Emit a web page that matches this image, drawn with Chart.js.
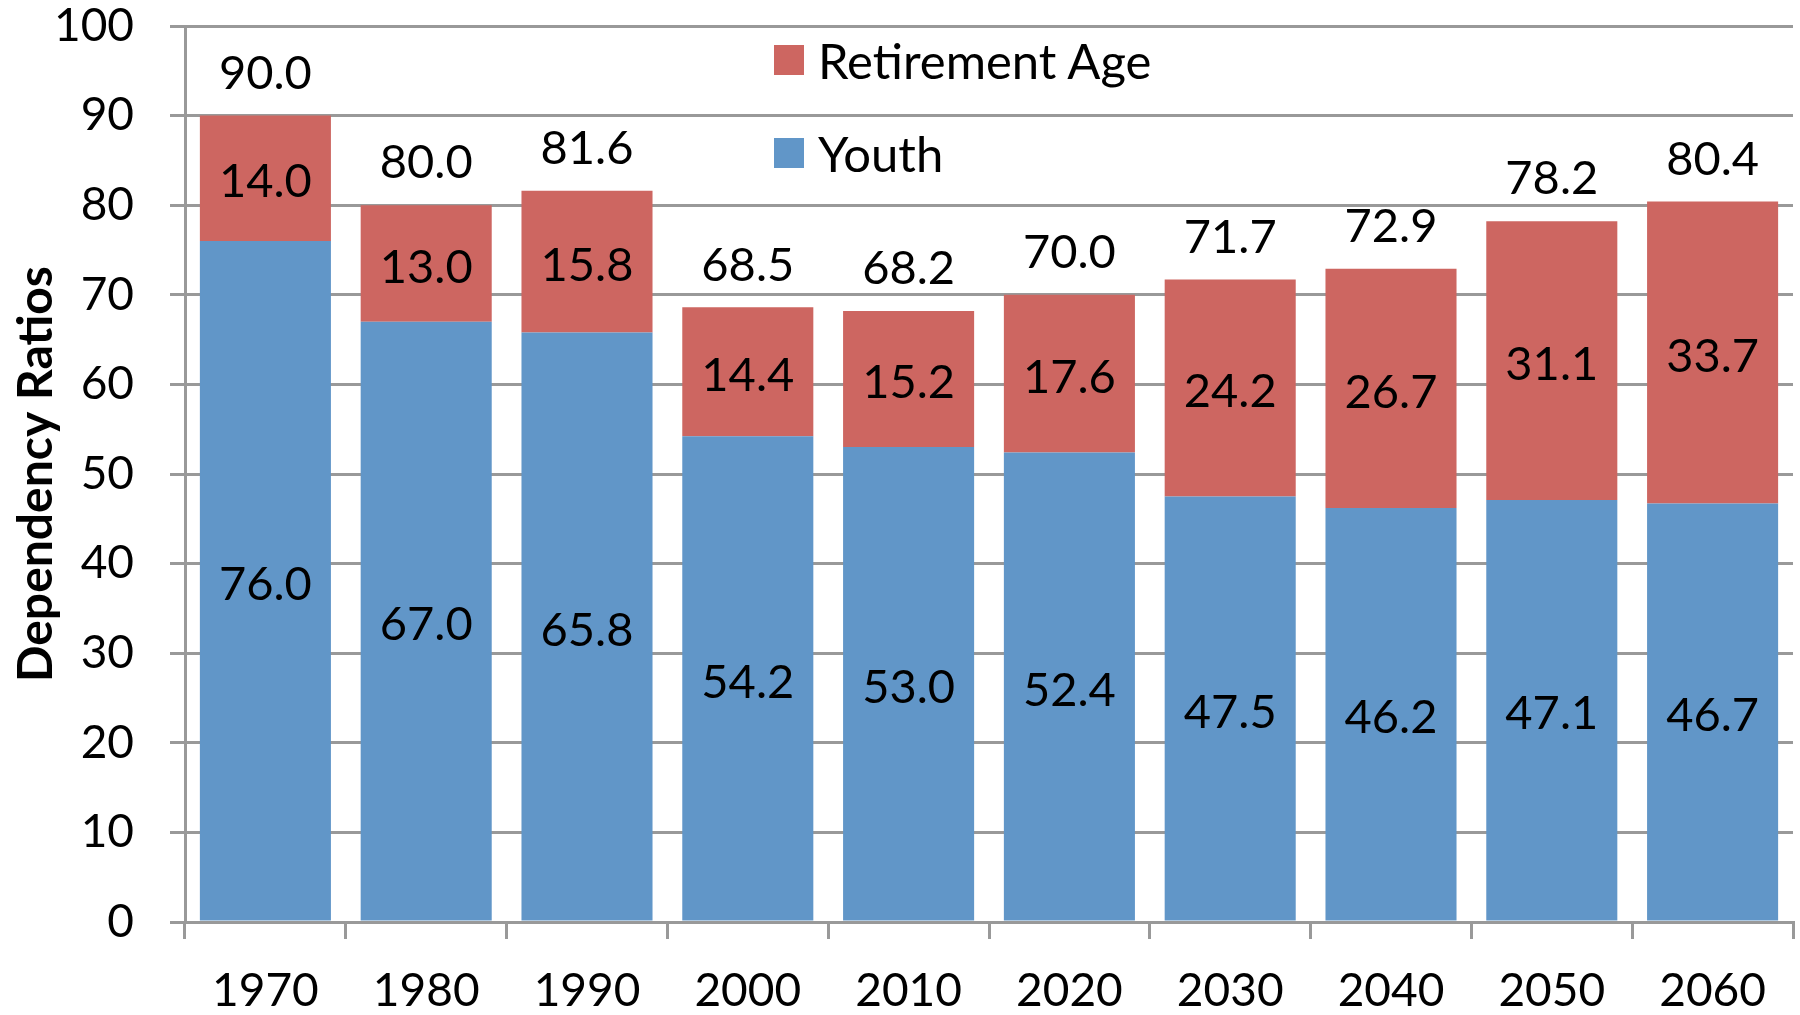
<!DOCTYPE html>
<html>
<head>
<meta charset="utf-8">
<script src="https://cdn.jsdelivr.net/npm/chart.js@4.4.1/dist/chart.umd.min.js"></script>
<style>
  body { margin: 0; background: #fff; }
  #wrap { position: relative; width: 1800px; height: 1015px; }
  .legend-item { position: absolute; display: flex; align-items: center; height: 60px; line-height: 60px; font-family: Lato, sans-serif; font-size: 49px; color: #000; }
  .legend-item span.box { display: inline-block; width: 30px; height: 30px; margin-right: 14px; }
</style>
</head>
<body>
<div id="wrap">
  <canvas id="depChart" width="1800" height="1015"></canvas>
  <div class="legend-item" style="left:774px; top:30px;"><span class="box" style="background:#CD6661"></span>Retirement Age</div>
  <div class="legend-item" style="left:774px; top:123px;"><span class="box" style="background:#6196C8"></span>Youth</div>
</div>
<script>
// data
var years = ['1970', '1980', '1990', '2000', '2010', '2020', '2030', '2040', '2050', '2060'];
var youth = [76.0, 67.0, 65.8, 54.2, 53.0, 52.4, 47.5, 46.2, 47.1, 46.7];
var retirement = [14.0, 13.0, 15.8, 14.4, 15.2, 17.6, 24.2, 26.7, 31.1, 33.7];
var totals = [90.0, 80.0, 81.6, 68.5, 68.2, 70.0, 71.7, 72.9, 78.2, 80.4];

var labelFont = '47px Lato, sans-serif';

// draws the value in each segment and the total above each bar
var valueLabels = {
    id: 'valueLabels',
    afterDatasetsDraw: function(chart) {
        var ctx = chart.ctx;
        var yScale = chart.scales.y;
        ctx.save();
        ctx.font = labelFont;
        ctx.fillStyle = '#000';
        ctx.textAlign = 'center';
        ctx.textBaseline = 'middle';
        chart.data.datasets.forEach(function(ds, i) {
            var meta = chart.getDatasetMeta(i);
            meta.data.forEach(function(bar, j) {
                var mid = (bar.y + bar.base) / 2;
                ctx.fillText(ds.data[j].toFixed(1), bar.x, mid + 4);
            });
        });
        var topMeta = chart.getDatasetMeta(1);
        topMeta.data.forEach(function(bar, j) {
            var top = yScale.getPixelForValue(youth[j] + retirement[j]);
            ctx.fillText(totals[j].toFixed(1), bar.x, top - 42);
        });
        ctx.restore();
    }
};

var ctx = document.getElementById('depChart').getContext('2d');
var chart = new Chart(ctx, {
    type: 'bar',
    data: {
        labels: years,
        datasets: [{
            label: 'Youth',
            data: youth,
            backgroundColor: '#6196C8',
            borderWidth: 0
        }, {
            label: 'Retirement Age',
            data: retirement,
            backgroundColor: '#CD6661',
            borderWidth: 0
        }]
    },
    options: {
        responsive: false,
        animation: false,
        devicePixelRatio: 1,
        layout: { padding: { top: 26, right: 7, left: 0, bottom: 0 } },
        plugins: {
            legend: { display: false },
            tooltip: { enabled: false }
        },
        datasets: {
            bar: { barPercentage: 0.815, categoryPercentage: 1.0 }
        },
        scales: {
            x: {
                stacked: true,
                offset: true,
                grid: {
                    offset: true,
                    drawOnChartArea: false,
                    color: '#999',
                    lineWidth: 3,
                    tickLength: 17
                },
                border: { color: '#999', width: 3 },
                ticks: {
                    color: '#000',
                    padding: 25,
                    font: { family: 'Lato', size: 46 }
                },
                afterFit: function(scale) {
                    scale.height = 93;
                    scale.paddingLeft = 0;
                    scale.paddingRight = 0;
                }
            },
            y: {
                stacked: true,
                min: 0,
                max: 100,
                ticks: {
                    stepSize: 10,
                    color: '#000',
                    padding: 36,
                    font: { family: 'Lato', size: 46 }
                },
                grid: {
                    color: '#999',
                    lineWidth: 3,
                    tickLength: 15
                },
                border: { color: '#999', width: 3 },
                title: {
                    display: true,
                    text: 'Dependency Ratios',
                    color: '#000',
                    padding: { top: 8, bottom: 0 },
                    font: { family: 'Lato', size: 48, weight: 'bold' }
                },
                afterFit: function(scale) {
                    scale.width = 185;
                    scale.paddingTop = 0;
                    scale.paddingBottom = 0;
                }
            }
        }
    },
    plugins: [valueLabels]
});
</script>
</body>
</html>
